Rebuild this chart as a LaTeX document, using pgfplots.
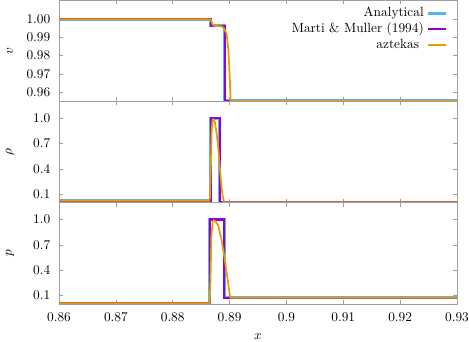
\documentclass[border=0pt]{standalone}
\usepackage{pgfplots}
\pgfplotsset{compat=1.18}

\definecolor{cAna}{HTML}{56B4E9}
\definecolor{cMM}{HTML}{9400D3}
\definecolor{cAz}{HTML}{E69F00}

\tikzset{
  stAna/.style={draw=cAna, line width=2.3pt},
  stMM/.style={draw=cMM, line width=1.6pt},
  stAz/.style={draw=cAz, line width=1.3pt},
}

\pgfplotsset{
  panel/.style={
    scale only axis,
    width=298.5pt, height=76pt,
    xmin=0.86, xmax=0.93,
    xtick={0.86,0.87,0.88,0.89,0.9,0.91,0.92,0.93},
    xticklabels={0.86,0.87,0.88,0.89,0.9,0.91,0.92,0.93},
    scaled ticks=false,
    axis line style={gray!75, line width=0.6pt},
    tick style={gray!75, line width=0.5pt},
    major tick length=3pt,
    yticklabel style={xshift=-3pt},
    xticklabel style={yshift=-3pt},
    every axis y label/.style={at={(axis description cs:-0.1231,0.5)}, rotate=90, anchor=center},
  },
}

\begin{document}
\begin{tikzpicture}
\useasboundingbox (0,0) rectangle (351.75pt,256.5pt);

% velocity
\begin{axis}[panel, at={(44.25pt,180.5pt)}, anchor=south west,
    ymin=0.955, ymax=1.0105,
    ytick={0.96,0.97,0.98,0.99,1.00},
    yticklabels={0.96,0.97,0.98,0.99,1.00},
    xticklabels={},
    ylabel={$v$},
]
\addplot[stAna] coordinates {(0.86,1.0)(0.8867,1.0)(0.8867,0.9964)(0.88915,0.9964)(0.88915,0.9553)(0.93,0.9553)};
\addplot[stMM] coordinates {(0.86,1.0)(0.8867,1.0)(0.8867,0.9964)(0.8892,0.9964)(0.8892,0.9553)(0.93,0.9553)};
\addplot[stAz] coordinates {(0.86,1.0)(0.8866,1.0)(0.88685,0.9985)(0.8871,0.9966)(0.8875,0.9963)(0.8886,0.9961)(0.8890,0.9950)(0.88925,0.9935)(0.88947,0.9923)(0.8897,0.986)(0.88982,0.9815)(0.88995,0.973)(0.89005,0.9667)(0.89012,0.960)(0.8902,0.9553)(0.93,0.9553)};
% key
\node[anchor=mid east, inner sep=0pt] at (axis description cs:0.9171,0.8684) {Analytical};
\draw[stAna] (axis description cs:0.9271,0.8684) -- (axis description cs:0.9717,0.8684);
\node[anchor=mid east, inner sep=0pt] at (axis description cs:0.9171,0.7105) {Marti \& Muller (1994)};
\draw[stMM] (axis description cs:0.9271,0.7105) -- (axis description cs:0.9717,0.7105);
\node[anchor=mid east, inner sep=0pt] at (axis description cs:0.9054,0.5487) {aztekas};
\draw[cAz, line width=1.6pt] (axis description cs:0.9271,0.555) -- (axis description cs:0.9717,0.555);
\end{axis}

% density
\begin{axis}[panel, at={(44.25pt,104.5pt)}, anchor=south west,
    ymin=0, ymax=1.2,
    ytick={0.1,0.4,0.7,1.0},
    yticklabels={0.1,0.4,0.7,1.0},
    xticklabels={},
    ylabel={$\rho$},
]
\addplot[stAna] coordinates {(0.86,0.024)(0.88666,0.024)(0.88666,1.0)(0.8883,1.0)(0.8883,0.006)(0.93,0.006)};
\addplot[stMM] coordinates {(0.86,0.024)(0.88666,0.024)(0.88666,1.0)(0.8883,1.0)(0.8883,0.006)(0.93,0.006)};
\addplot[stAz] coordinates {(0.86,0.024)(0.8864,0.024)(0.88655,0.06)(0.8867,0.4)(0.88685,0.85)(0.8870,0.97)(0.88712,0.985)(0.8874,0.96)(0.88772,0.82)(0.8880,0.66)(0.88817,0.50)(0.8884,0.33)(0.88859,0.19)(0.8888,0.07)(0.8890,0.014)(0.8892,0.006)(0.93,0.006)};
\end{axis}

% pressure
\begin{axis}[panel, at={(44.25pt,28.5pt)}, anchor=south west,
    ymin=0, ymax=1.2,
    ytick={0.1,0.4,0.7,1.0},
    yticklabels={0.1,0.4,0.7,1.0},
    ylabel={$p$},
    xlabel={$x$},
    every axis x label/.style={at={(axis description cs:0.5,-0.3257)}, anchor=center},
]
\addplot[stAna] coordinates {(0.86,0.008)(0.88654,0.008)(0.88654,1.0)(0.88905,1.0)(0.88905,0.075)(0.93,0.075)};
\addplot[stMM] coordinates {(0.86,0.008)(0.88654,0.008)(0.88654,1.0)(0.88905,1.0)(0.88905,0.075)(0.93,0.075)};
\addplot[stAz] coordinates {(0.86,0.008)(0.8865,0.008)(0.88665,0.3)(0.8868,0.8)(0.8870,0.97)(0.8872,0.99)(0.8875,0.98)(0.8877,0.96)(0.8880,0.93)(0.88859,0.76)(0.88917,0.52)(0.88975,0.25)(0.8900,0.12)(0.89018,0.075)(0.93,0.075)};
\end{axis}
\end{tikzpicture}
\end{document}
